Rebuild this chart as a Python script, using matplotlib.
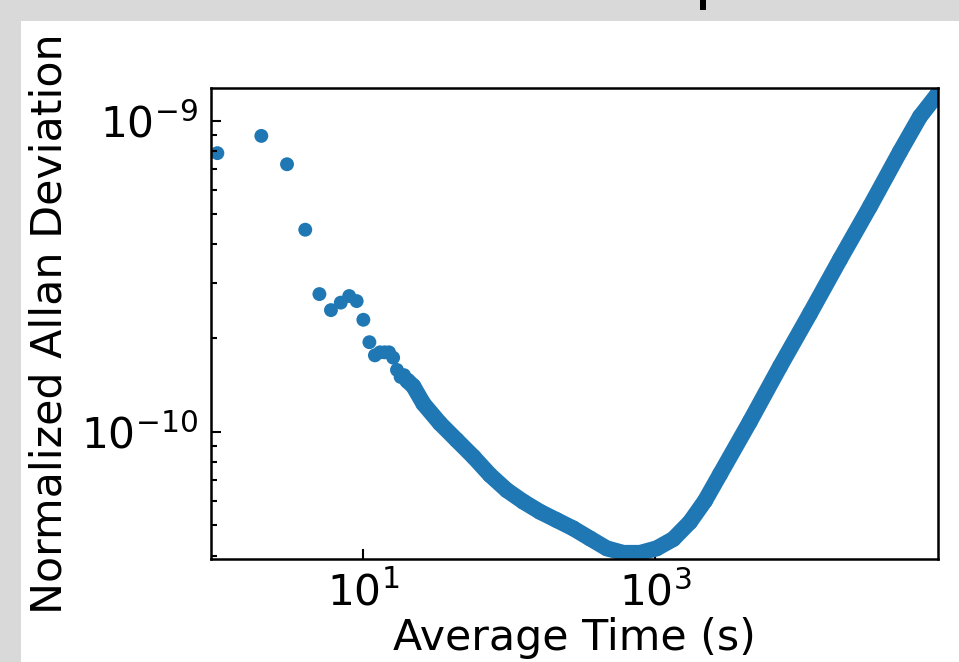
import numpy as np
import matplotlib.pyplot as plt
from matplotlib.patches import Rectangle
from matplotlib.ticker import NullLocator

# averaging times (s) and normalized allan deviation
tau_sparse = [1, 2, 3, 4, 5, 6, 7, 8, 9, 10, 11, 12, 13, 14, 15, 16, 17, 18, 19]
adev_sparse = [7.86e-10, 8.93e-10, 7.24e-10, 4.46e-10, 2.77e-10, 2.46e-10,
               2.60e-10, 2.73e-10, 2.63e-10, 2.29e-10, 1.94e-10, 1.76e-10,
               1.80e-10, 1.80e-10, 1.80e-10, 1.73e-10, 1.58e-10, 1.50e-10,
               1.52e-10]

tau_dense = [20, 22, 25.8, 33.5, 43.6, 56.7, 73.8, 96, 124.7, 162.3, 211, 274,
             357, 465, 604, 786, 1022, 1328, 1729, 2189, 2774, 4455, 7145,
             11480, 18400, 29570, 47430, 65000, 85000]
adev_dense = [1.46e-10, 1.40e-10, 1.23e-10, 1.064e-10, 9.40e-11, 8.31e-11,
              7.26e-11, 6.49e-11, 5.96e-11, 5.53e-11, 5.20e-11, 4.89e-11,
              4.54e-11, 4.22e-11, 4.08e-11, 4.08e-11, 4.22e-11, 4.52e-11,
              5.13e-11, 6.00e-11, 7.30e-11, 1.08e-10, 1.62e-10, 2.40e-10,
              3.58e-10, 5.30e-10, 7.95e-10, 1.03e-09, 1.21e-09]

color = '#1f77b4'

fig = plt.figure(figsize=(9.59, 6.62), dpi=100)
fig.patch.set_facecolor('#d9d9d9')
fig.patches.append(Rectangle((20.5 / 959, 0), 1, 641.5 / 662, transform=fig.transFigure,
                             facecolor='white', edgecolor='none', zorder=-10))
fig.patches.append(Rectangle((700 / 959, 652 / 662), 6 / 959, 10 / 662, transform=fig.transFigure,
                             facecolor='black', edgecolor='none', zorder=-5))

ax = fig.add_axes([0.2197, 0.1551, 0.7581, 0.7115])
ax.patch.set_alpha(0)

ax.scatter(tau_sparse, adev_sparse, s=100, color=color, edgecolors='none')
ax.plot(tau_dense, adev_dense, color=color, lw=11.5, solid_capstyle='round', solid_joinstyle='round')
ax.scatter(tau_dense, adev_dense, s=130, color=color, edgecolors='none')

ax.set_xscale('log')
ax.set_yscale('log')
ax.set_xlim(0.90, 86000)
ax.set_ylim(3.89e-11, 1.27e-9)
ax.set_xticks([10, 1000])
ax.xaxis.set_minor_locator(NullLocator())

ax.tick_params(which='both', direction='in', labelsize=30.5, width=1.5, pad=9)
ax.tick_params(which='major', length=7)
ax.tick_params(which='minor', length=4)
for sp in ax.spines.values():
    sp.set_linewidth(1.8)

ax.set_xlabel('Average Time (s)', fontsize=30.8, labelpad=2)
ax.set_ylabel('Normalized Allan Deviation', fontsize=30.8, labelpad=8)

fig.savefig('out.png', dpi=100, facecolor=fig.get_facecolor())
